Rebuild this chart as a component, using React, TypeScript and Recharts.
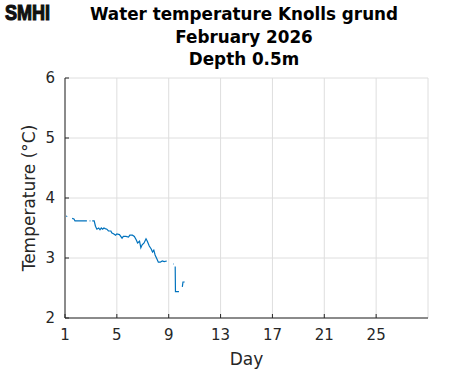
import { LineChart, Line, XAxis, YAxis, CartesianGrid } from 'recharts';

// Hourly-ish readings, Knolls grund 0.5 m, Feb 2026 (null = gap in the record)
const days = [
  1.10, 1.17, 1.22, 1.55, 1.69, 1.77, 2.0, 2.3, 2.69, 2.8, 2.9, 2.96, 3.0, 3.1, 3.25,
  3.35, 3.46, 3.6, 3.7, 3.8, 3.9, 4.0, 4.1, 4.23, 4.35, 4.54, 4.6, 4.77, 4.9, 5.0,
  5.2, 5.4, 5.5, 5.7, 5.9, 6.0, 6.2, 6.35, 6.5, 6.6, 6.75, 6.85, 6.95, 7.1, 7.25,
  7.35, 7.5, 7.65, 7.75, 7.85, 7.95, 8.1, 8.2, 8.35, 8.5, 8.65, 8.85, 8.9, 9.36,
  9.41, 9.45, 9.5, 9.52, 9.79, 9.85, 10.05, 10.1, 10.23,
];
const temps = [
  3.69, 3.70, null, 3.66, 3.65, 3.62, 3.62, 3.62, 3.62, null, 3.62, 3.62, null, 3.62, 3.62,
  3.53, 3.48, 3.50, 3.47, 3.50, 3.48, 3.50, 3.49, 3.48, 3.45, 3.45, 3.42, 3.40, 3.38, 3.40,
  3.39, 3.33, 3.36, 3.36, 3.35, 3.38, 3.38, 3.36, 3.30, 3.25, 3.28, 3.17, 3.22, 3.25, 3.32,
  3.28, 3.20, 3.15, 3.10, 3.13, 3.05, 2.98, 2.93, 2.93, 2.95, 2.94, 2.95, null, 2.90,
  2.90, null, 2.86, 2.44, 2.44, null, 2.52, 2.60, 2.60,
];
const xTicks = [1, 5, 9, 13, 17, 21, 25];
const yTicks = [2, 3, 4, 5, 6];
const titleLines = ['Water temperature Knolls grund', 'February 2026', 'Depth 0.5m'];

const data = days.map((d, i) => ({ day: d, temp: temps[i] }));

const FONT = '"DejaVu Sans", sans-serif';
const AX = '#262626';

export default function App() {
  const tickStyle = { fontSize: 15, fill: AX, fontFamily: FONT };
  return (
    <div style={{ position: 'absolute', left: 0, top: 0, width: 471, height: 371, background: '#fff' }}>
      <LineChart width={471} height={371} data={data} margin={{ top: 78, right: 43, bottom: 0, left: 0 }}>
        <CartesianGrid stroke="#dedede" strokeWidth={1} />
        <XAxis
          dataKey="day"
          type="number"
          domain={[1, 29]}
          ticks={xTicks}
          height={53}
          stroke={AX}
          tickSize={-4}
          tickMargin={15}
          tick={tickStyle}
          label={{ value: 'Day', position: 'insideBottom', offset: 6, fontSize: 17, fill: AX, fontFamily: FONT }}
        />
        <XAxis xAxisId="top" orientation="top" type="number" domain={[1, 29]} ticks={xTicks} height={0}
          stroke={AX} tickSize={-4} tick={() => <g />} />
        <YAxis
          type="number"
          domain={[2, 6]}
          ticks={yTicks}
          width={65}
          stroke={AX}
          tickSize={-4}
          tickMargin={14}
          tick={tickStyle}
        />
        <YAxis yAxisId="right" orientation="right" type="number" domain={[2, 6]} ticks={yTicks} width={0}
          stroke={AX} tickSize={-4} tick={() => <g />} />
        <Line dataKey="temp" stroke="#0072BD" strokeWidth={1.2} dot={false} isAnimationActive={false} />
      </LineChart>
      <svg width={471} height={371} style={{ position: 'absolute', left: 0, top: 0, pointerEvents: 'none' }}>
        <text x={5} y={20} fontFamily='"Liberation Sans", sans-serif' fontWeight="bold"
          fontSize={22} textLength={45} lengthAdjust="spacingAndGlyphs" fill="#111" stroke="#111" strokeWidth={1.2}>SMHI</text>
        {titleLines.map((t, i) => (
          <text key={t} x={244} y={20 + i * 22.5} textAnchor="middle" fontFamily={FONT} fontWeight="bold" fontSize={16.8} fill="#000">
            {t}
          </text>
        ))}
        <text x={35} y={198} transform="rotate(-90 35 198)" textAnchor="middle" fontFamily={FONT} fontSize={17} fill={AX}>
          Temperature (°C)
        </text>
      </svg>
    </div>
  );
}
